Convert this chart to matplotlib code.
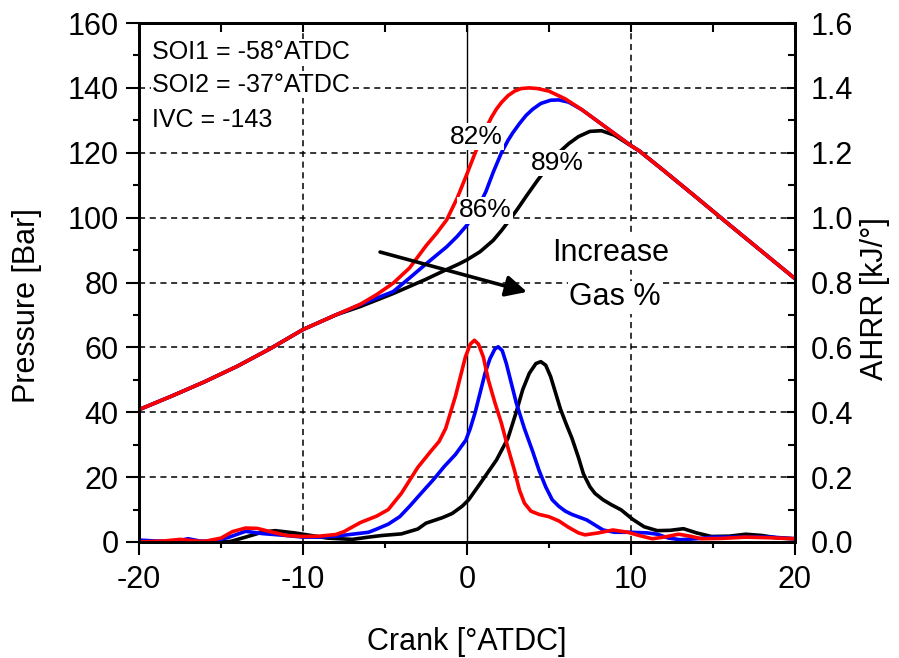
import matplotlib
matplotlib.use('Agg')
import matplotlib.pyplot as plt
from matplotlib.ticker import MultipleLocator

plt.rcParams['font.family'] = ['Liberation Sans', 'DejaVu Sans']
plt.rcParams['axes.unicode_minus'] = False

# pressure traces [bar] vs crank angle [deg ATDC]
p_crank_early = [-20, -18, -16, -14, -12, -10, -8]
p_early = [40.8, 45.0, 49.4, 54.2, 59.6, 65.5, 70.0]
p_crank_late = [12, 14, 16, 18, 20]
p_late = [114.5, 106.2, 97.8, 89.5, 81.2]

red_p_crank = p_crank_early + [-6.5, -5.5, -4.5, -3.5, -3, -2.5, -1.85, -1.24, -0.6, 0, 0.5, 1.0, 1.5, 1.8, 2.1,
                               2.5, 2.9, 3.3, 3.8, 4.3, 5, 6, 7, 8, 9, 10, 10.5] + p_crank_late
red_p = p_early + [73.3, 76.3, 79.8, 84.5, 87.9, 91.3, 95.2, 99.3, 106, 113.5, 120, 126.0, 131.0, 133.5, 135.5,
                   137.6, 139.0, 139.8, 140.0, 139.8, 139, 136.6, 133.3, 129.6, 125.9, 122.2, 120.6] + p_late

blue_p_crank = p_crank_early + [-6.5, -5.5, -4.5, -3.5, -2.46, -1.24, -0.6, 0, 0.6, 1.15, 1.6, 2.1, 2.5, 2.8, 3.2,
                                3.6, 4.0, 4.5, 5.1, 5.6, 6.2, 7, 8, 9, 10, 10.5] + p_crank_late
blue_p = p_early + [73.2, 75.2, 77.2, 81.4, 85.9, 91.0, 94.2, 97.7, 102.3, 108, 114, 120, 123.8, 126.2, 129.0,
                    131.5, 133.4, 135.2, 136.2, 136.3, 135.6, 133.3, 129.6, 125.9, 122.2, 120.6] + p_late

black_p_crank = p_crank_early + [-6.5, -5.5, -4.5, -3.5, -2.5, -1.5, -0.5, 0, 0.8, 1.6, 2.1, 2.6, 3.1, 3.6, 4.3,
                                 5.2, 5.7, 6.2, 6.8, 7.5, 8.2, 9, 9.8, 10.5] + p_crank_late
black_p = p_early + [72.6, 74.6, 76.6, 78.8, 81.0, 83.4, 85.7, 87.0, 89.5, 93.0, 96, 99.3, 102.8, 106.5, 111.5,
                     117.5, 120.5, 122.8, 125.0, 126.6, 126.8, 125.4, 122.8, 120.6] + p_late

# apparent heat release rate [kJ/deg]
red_hr_crank = [-20, -18.5, -17.5, -16.5, -16, -15, -14.3, -13.5, -12.8, -12, -11, -10, -9, -8, -7.5, -6.5, -5.5,
                -4.8, -4, -3, -2.2, -1.7, -1.3, -1.0, -0.7, -0.4, -0.1, 0.2, 0.45, 0.7, 1.0, 1.3, 1.7, 2.1, 2.5,
                2.9, 3.2, 3.5, 3.9, 4.4, 5.0, 5.6, 6.2, 6.8, 7.2, 8, 8.9, 9.8, 10.5, 11.3, 12, 12.9, 13.6, 14.3,
                15.5, 17, 18.5, 20]
red_hr = [0.0, 0.003, 0.008, 0.003, 0.002, 0.012, 0.032, 0.043, 0.042, 0.032, 0.020, 0.017, 0.018, 0.023, 0.032,
          0.060, 0.080, 0.100, 0.150, 0.230, 0.280, 0.310, 0.350, 0.400, 0.450, 0.510, 0.570, 0.610, 0.622, 0.610,
          0.570, 0.500, 0.430, 0.366, 0.290, 0.220, 0.160, 0.120, 0.095, 0.085, 0.078, 0.065, 0.045, 0.028, 0.022,
          0.028, 0.037, 0.030, 0.020, 0.010, 0.015, 0.024, 0.018, 0.010, 0.011, 0.015, 0.013, 0.010]

blue_hr_crank = [-20, -19, -17.8, -17, -16.3, -15.5, -14.5, -13.5, -12.5, -11, -10, -9, -8, -7, -6, -5.5, -4.8,
                 -4.1, -3.5, -2.8, -2, -1.4, -0.7, -0.07, 0.2, 0.5, 0.8, 1.1, 1.4, 1.7, 1.9, 2.15, 2.4, 2.7, 3.0,
                 3.5, 4.0, 4.4, 4.8, 5.2, 5.6, 6.0, 6.4, 7.3, 8.3, 9, 10, 11, 11.6, 12.3, 13, 14, 15, 17, 18.6, 20]
blue_hr = [0.006, 0.003, 0.002, 0.010, 0.003, 0.002, 0.015, 0.033, 0.026, 0.020, 0.015, 0.015, 0.018, 0.024,
           0.030, 0.040, 0.055, 0.078, 0.110, 0.150, 0.195, 0.232, 0.270, 0.314, 0.350, 0.400, 0.460, 0.520,
           0.565, 0.595, 0.602, 0.590, 0.550, 0.490, 0.430, 0.350, 0.280, 0.220, 0.170, 0.130, 0.110, 0.095,
           0.085, 0.068, 0.037, 0.030, 0.030, 0.028, 0.024, 0.012, 0.007, 0.010, 0.015, 0.015, 0.015, 0.010]

black_hr_crank = [-20, -15, -14.4, -13.5, -12.5, -11.7, -10.5, -9.5, -8.5, -7, -6, -5.2, -4, -3, -2.5, -1.5, -0.9,
                  -0.3, 0.1, 0.8, 1.8, 2.5, 3.0, 3.4, 3.8, 4.2, 4.5, 4.8, 5.1, 5.4, 5.7, 6.0, 6.4, 6.8, 7.1, 7.5,
                  7.8, 8.3, 8.8, 9.4, 10.1, 10.8, 11.6, 12.4, 13.2, 14, 14.9, 16, 17, 18, 19, 20]
black_hr = [0.0, 0.0, 0.002, 0.015, 0.030, 0.035, 0.028, 0.020, 0.012, 0.008, 0.015, 0.020, 0.025, 0.040, 0.058,
            0.075, 0.088, 0.110, 0.130, 0.180, 0.253, 0.320, 0.400, 0.470, 0.520, 0.550, 0.556, 0.545, 0.510,
            0.460, 0.410, 0.370, 0.320, 0.260, 0.210, 0.170, 0.150, 0.130, 0.115, 0.099, 0.070, 0.047, 0.035,
            0.036, 0.041, 0.028, 0.017, 0.018, 0.024, 0.020, 0.012, 0.010]

p_grid = [20, 40, 60, 80, 100, 120, 140]
crank_grid = [-10, 10]

fig = plt.figure(figsize=(8.99, 6.58), dpi=100)
fig.subplots_adjust(left=0.1546, right=0.8843, bottom=0.1763, top=0.965)
ax = fig.add_subplot(111)
ax2 = ax.twinx()

# grid
for g in p_grid:
    ax.axhline(g, color='black', lw=1.1, ls=(0, (4, 3)), zorder=1)
for g in crank_grid:
    ax.axvline(g, color='black', lw=1.1, ls=(0, (4, 3)), zorder=1)
ax.axvline(0, color='black', lw=1.0, zorder=1)

lw = 2.6
ax.plot(black_p_crank, black_p, color='black', lw=lw, zorder=3, solid_joinstyle='round')
ax.plot(blue_p_crank, blue_p, color='#0000ff', lw=lw, zorder=3, solid_joinstyle='round')
ax.plot(red_p_crank, red_p, color='#ff0000', lw=lw, zorder=3, solid_joinstyle='round')

ax2.plot(black_hr_crank, black_hr, color='black', lw=lw, solid_joinstyle='round')
ax2.plot(blue_hr_crank, blue_hr, color='#0000ff', lw=lw, solid_joinstyle='round')
ax2.plot(red_hr_crank, red_hr, color='#ff0000', lw=lw, solid_joinstyle='round')

ax.set_xlim(-20, 20)
ax.set_ylim(0, 160)
ax2.set_ylim(0, 1.6)

ax.xaxis.set_major_locator(MultipleLocator(10))
ax.xaxis.set_minor_locator(MultipleLocator(5))
ax.yaxis.set_major_locator(MultipleLocator(20))
ax.yaxis.set_minor_locator(MultipleLocator(10))
ax2.yaxis.set_major_locator(MultipleLocator(0.2))
ax2.yaxis.set_minor_locator(MultipleLocator(0.1))
ax2.yaxis.set_major_formatter(plt.FormatStrFormatter('%.1f'))

ax.tick_params(axis='both', which='major', direction='out', length=9.5, width=1.5, labelsize=22)
ax.tick_params(axis='both', which='minor', direction='out', length=4.5, width=1.5)
ax.tick_params(axis='x', which='major', pad=7)
ax.tick_params(axis='y', which='major', pad=5)
ax2.tick_params(axis='y', which='major', direction='in', length=6, width=1.5, labelsize=22, pad=11)
ax2.tick_params(axis='y', which='minor', direction='in', length=5, width=1.5)

top = ax.secondary_xaxis('top')
top.xaxis.set_major_locator(MultipleLocator(10))
top.xaxis.set_minor_locator(MultipleLocator(5))
top.tick_params(which='both', direction='in', length=6.5, width=1.5, labeltop=False)

for a in (ax, ax2, top):
    for s in a.spines.values():
        s.set_linewidth(2)

ax.set_xlabel('Crank [°ATDC]', fontsize=22, va='center')
ax.set_ylabel('Pressure [Bar]', fontsize=22, va='center')
ax2.set_ylabel('AHRR [kJ/°]', fontsize=22, va='center')
ax.xaxis.set_label_coords(0.5, -0.193)
ax.yaxis.set_label_coords(-0.171, 0.455)
ax2.yaxis.set_label_coords(1.122, 0.47)

box = dict(fc='white', ec='none', pad=1)
ax.text(-19.2, 151, 'SOI1 = -58°ATDC', fontsize=18, va='center', ha='left', bbox=box, zorder=5)
ax.text(-19.2, 140.9, 'SOI2 = -37°ATDC', fontsize=18, va='center', ha='left', bbox=box, zorder=5)
ax.text(-19.2, 130, 'IVC = -143', fontsize=18, va='center', ha='left', bbox=box, zorder=5)

ax.text(0.55, 125, '82%', fontsize=19, va='center', ha='center', bbox=box, zorder=5)
ax.text(1.1, 102.3, '86%', fontsize=19, va='center', ha='center', bbox=box, zorder=5)
ax.text(5.5, 116.8, '89%', fontsize=19, va='center', ha='center', bbox=box, zorder=5)

ax.text(8.78, 89.1, 'Increase', fontsize=22, va='center', ha='center', bbox=box, zorder=5)
ax.text(9.02, 75.5, 'Gas %', fontsize=22, va='center', ha='center', bbox=box, zorder=5)

ax.annotate('', xy=(3.66, 77.1), xytext=(-5.3, 89.4),
            arrowprops=dict(arrowstyle='-|>', lw=2.6, color='black', mutation_scale=32,
                            shrinkA=0, shrinkB=0), zorder=6)

fig.savefig('out.png', dpi=100)
